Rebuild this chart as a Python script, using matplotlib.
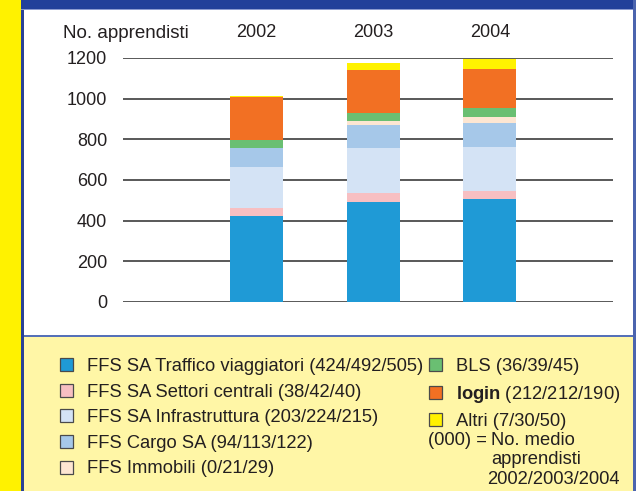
import numpy as np
import matplotlib
matplotlib.use("Agg")
import matplotlib.pyplot as plt
from matplotlib.patches import Rectangle

plt.rcParams["font.family"] = ["Liberation Sans", "DejaVu Sans"]
plt.rcParams["mathtext.fontset"] = "custom"
plt.rcParams["mathtext.rm"] = "Liberation Sans"
plt.rcParams["mathtext.bf"] = "Liberation Sans:bold"

# dati: numero medio di apprendisti per anno
anni = ["2002", "2003", "2004"]
traffico = [424, 492, 505]
settori = [38, 42, 40]
infra = [203, 224, 215]
cargo = [94, 113, 122]
immobili = [0, 21, 29]
bls = [36, 39, 45]
login = [212, 212, 190]
altri = [7, 30, 50]

serie = [traffico, settori, infra, cargo, immobili, bls, login, altri]
etichette = [
    "FFS SA Traffico viaggiatori (424/492/505)",
    "FFS SA Settori centrali (38/42/40)",
    "FFS SA Infrastruttura (203/224/215)",
    "FFS Cargo SA (94/113/122)",
    "FFS Immobili (0/21/29)",
    "BLS (36/39/45)",
    r"$\mathbf{login}$ (212/212/190)",
    "Altri (7/30/50)",
]
colori = ["#1f9ad6", "#f7bfc2", "#d4e3f5", "#a6c8e9",
          "#fde6d2", "#6abf72", "#f27023", "#fff200"]

W, H = 636, 491
fig = plt.figure(figsize=(W / 100, H / 100), dpi=100)
testo = "#231f20"


def box(x0, y0, x1, y1, c, z=0):
    # rettangolo in pixel (origine in alto a sinistra)
    fig.add_artist(Rectangle((x0 / W, 1 - y1 / H), (x1 - x0) / W, (y1 - y0) / H,
                             transform=fig.transFigure, color=c, lw=0, zorder=z))


box(0, 0, 21, H, "#fff200")
box(21, 0, 24, H, "#2b4396")
box(21, 0, W, 9, "#22409a")
box(21, 9, W, 10, "#8c9bd0")
box(24, 336, 633, H, "#fff6a6")
box(24, 335, 633, 336.5, "#5570b8")
box(633, 0, W, H, "#4b64ae")

ax = fig.add_axes([123 / W, 1 - 302 / H, 490 / W, 244 / H])
ax.set_facecolor("none")
x = np.arange(len(anni))
base = np.zeros(len(anni))
barre = []
for vals, c in zip(serie, colori):
    b = ax.bar(x, vals, 0.454, bottom=base, color=c, lw=0, zorder=3)
    barre.append(b)
    base += np.array(vals)

ax.set_xlim(-1.143, 3.054)
ax.set_ylim(0, 1200)
ax.set_yticks(range(0, 1201, 200))
ax.yaxis.grid(True, color="#3c3c3c", lw=1.2)
ax.set_axisbelow(True)
for s in ax.spines.values():
    s.set_visible(False)
ax.set_xticks(x)
ax.set_xticklabels(anni)
ax.xaxis.tick_top()
ax.tick_params(axis="y", length=0, pad=11.5, labelsize=13, labelcolor=testo)
ax.tick_params(axis="x", length=0, pad=12, labelsize=13, labelcolor=testo)

fig.text(63 / W, 1 - 37.5 / H, "No. apprendisti", fontsize=13.5, color=testo,
         va="baseline")

opz = dict(frameon=False, fontsize=13.2, borderpad=0, borderaxespad=0,
           handlelength=0.72, handleheight=0.72, handletextpad=0.75,
           labelspacing=0.47, labelcolor=testo, loc="upper left")
leg1 = fig.legend(barre[:5], etichette[:5], bbox_to_anchor=(60 / W, 1 - 358 / H), **opz)
leg2 = fig.legend(barre[5:], etichette[5:], bbox_to_anchor=(429 / W, 1 - 358 / H), **opz)
for lg in (leg1, leg2):
    for h in lg.legend_handles:
        h.set_edgecolor("#4a4a4a")
        h.set_linewidth(0.9)

fig.text(428 / W, 1 - 445 / H, "(000) =", fontsize=13.2, color=testo, va="baseline")
fig.text(491 / W, 1 - 445 / H, "No. medio", fontsize=13.2, color=testo, va="baseline")
fig.text(491 / W, 1 - 464 / H, "apprendisti", fontsize=13.2, color=testo, va="baseline")
fig.text(487 / W, 1 - 484 / H, "2002/2003/2004", fontsize=13.2, color=testo, va="baseline")

fig.savefig("out.png", dpi=100)
